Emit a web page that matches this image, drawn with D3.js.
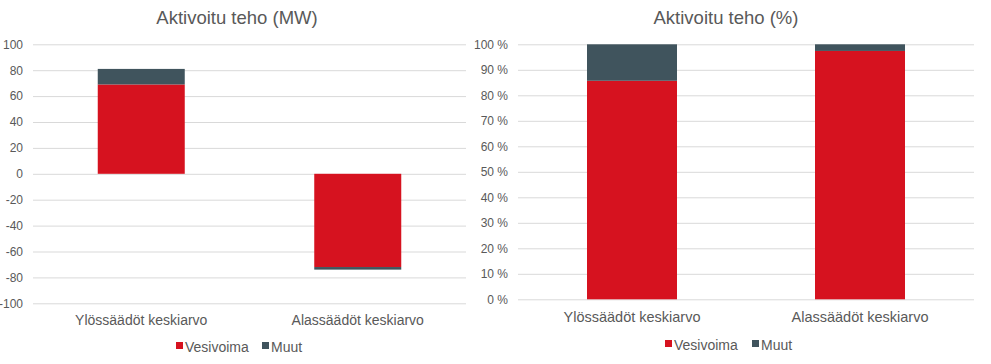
<!DOCTYPE html>
<html>
<head>
<meta charset="utf-8">
<script src="https://cdnjs.cloudflare.com/ajax/libs/d3/7.8.5/d3.min.js"></script>
<style>
  body { margin: 0; background: #fff; }
  svg { display: block; font-family: "Liberation Sans", Arial, sans-serif; }
</style>
</head>
<body>
<script>
'use strict';

const categories = ["Ylössäädöt keskiarvo", "Alassäädöt keskiarvo"]
const seriesNames = ["Vesivoima", "Muut"]
const vesivoimaMW = [69, -72]
const muutMW = [12, -2]
const vesivoimaPct = [85.7, 97.4]
const muutPct = [14.3, 2.6]
const ticksMW = [-100, -80, -60, -40, -20, 0, 20, 40, 60, 80, 100]
const ticksPct = [0, 10, 20, 30, 40, 50, 60, 70, 80, 90, 100]

const colors = { Vesivoima: "#d6121f", Muut: "#40545d" }
const textColor = "#595959"
const gridColor = "#d9d9d9"

const svg = d3.select('body')
  .append('svg')
  .attr('width', 991)
  .attr('height', 364)

function makeRows(a, b) {
  return categories.map((c, i) => ({ cat: c, Vesivoima: a[i], Muut: b[i] }))
}

function drawChart(opt) {
  const g = svg.append('g')

  const x = d3.scaleBand()
    .domain(categories)
    .range([opt.left, opt.right])
    .paddingInner(0.6)
    .paddingOuter(0.3)

  const y = d3.scaleLinear()
    .domain(opt.domain)
    .range([opt.bottom, opt.top])

  // title
  g.append('text')
    .attr('x', opt.titleX)
    .attr('y', 24)
    .attr('text-anchor', 'middle')
    .style('font-size', '18.5px')
    .style('fill', textColor)
    .text(opt.title)

  // grid + y labels
  const yAxis = d3.axisLeft(y)
    .tickValues(opt.ticks)
    .tickSize(-(opt.right - opt.left))
    .tickPadding(opt.tickPad)
    .tickFormat(opt.fmt)

  const ya = g.append('g')
    .attr('transform', 'translate(' + opt.left + ',0)')
    .call(yAxis)
  ya.select('.domain').remove()
  ya.selectAll('line').style('stroke', gridColor).style('stroke-width', 1)
  ya.selectAll('text')
    .style('font-size', '12px')
    .style('fill', textColor)
    .style('font-family', '"Liberation Sans", Arial, sans-serif')

  // bars
  const stack = d3.stack()
    .keys(seriesNames)
    .offset(d3.stackOffsetDiverging)
  const layers = stack(opt.rows)

  g.selectAll('g.layer')
    .data(layers)
    .enter().append('g')
      .attr('class', 'layer')
      .style('fill', (d) => colors[d.key])
    .selectAll('rect')
    .data((d) => d)
    .enter().append('rect')
      .attr('x', (d) => x(d.data.cat) + (x.bandwidth() - opt.barW) / 2)
      .attr('width', opt.barW)
      .attr('y', (d) => y(Math.max(d[0], d[1])))
      .attr('height', (d) => Math.abs(y(d[0]) - y(d[1])))

  // category labels
  g.selectAll('text.cat')
    .data(categories)
    .enter().append('text')
      .attr('class', 'cat')
      .attr('x', (d) => x(d) + x.bandwidth() / 2)
      .attr('y', opt.catY)
      .attr('text-anchor', 'middle')
      .style('font-size', opt.catSize)
      .style('fill', textColor)
      .text((d) => d)

  // legend
  const leg = g.append('g')
  opt.legendX.forEach((lx, i) => {
    leg.append('rect')
      .attr('x', lx)
      .attr('y', opt.legendY - 10)
      .attr('width', 7)
      .attr('height', 7)
      .style('fill', colors[seriesNames[i]])
    leg.append('text')
      .attr('x', lx + 9)
      .attr('y', opt.legendY)
      .style('font-size', '14px')
      .style('fill', textColor)
      .text(seriesNames[i])
  })
}

drawChart({
  title: "Aktivoitu teho (MW)",
  titleX: 237,
  rows: makeRows(vesivoimaMW, muutMW),
  domain: [-100, 100],
  ticks: ticksMW,
  fmt: (d) => d,
  left: 33, right: 466, top: 44.3, bottom: 303.3,
  tickPad: 10,
  barW: 87,
  catY: 325,
  catSize: '14px',
  legendX: [176, 262],
  legendY: 352
})

drawChart({
  title: "Aktivoitu teho (%)",
  titleX: 726,
  rows: makeRows(vesivoimaPct, muutPct),
  domain: [0, 100],
  ticks: ticksPct,
  fmt: (d) => d + " %",
  left: 518, right: 974, top: 44.3, bottom: 299.3,
  tickPad: 10,
  barW: 90,
  catY: 322,
  catSize: '14.5px',
  legendX: [665, 752],
  legendY: 350
})
</script>
</body>
</html>
